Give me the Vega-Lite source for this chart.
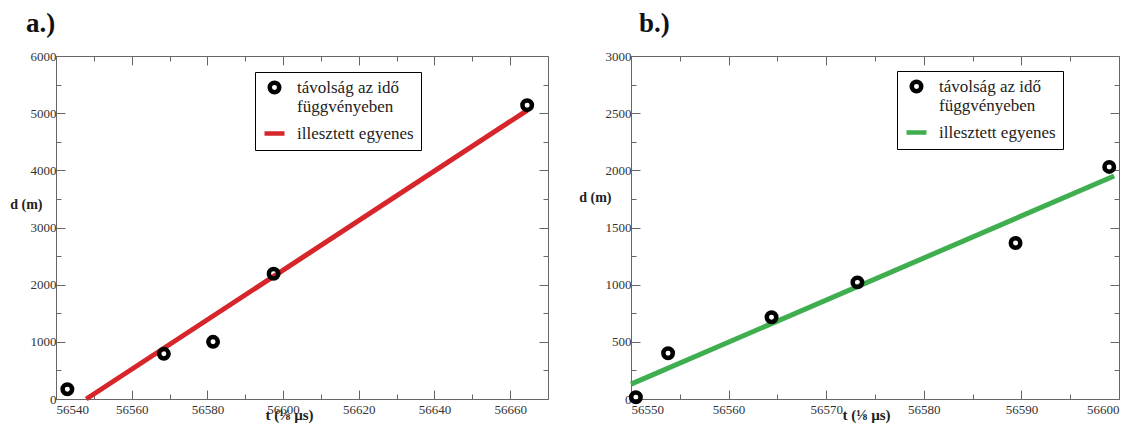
{
  "$schema": "https://vega.github.io/schema/vega-lite/v6.json",
  "background": "white",
  "padding": {"left": 9, "top": 10, "right": 2, "bottom": 2},
  "spacing": 29,
  "resolve": {
    "scale": {"color": "independent", "shape": "independent", "size": "independent"},
    "legend": {"color": "independent", "shape": "independent", "size": "independent"}
  },
  "config": {
    "font": "Liberation Serif",
    "view": {"stroke": null},
    "axis": {
      "labelFont": "Liberation Serif", "labelFontSize": 13, "labelColor": "#333",
      "domainColor": "#666", "tickColor": "#666", "grid": false,
      "titleFont": "Liberation Serif", "titleFontWeight": "bold", "titleFontSize": 15, "titleColor": "#222",
      "labelPadding": 13
    },
    "axisLeft": {"labelPadding": 9, "titleFontSize": 14},
    "legend": {
      "labelFont": "Liberation Serif", "labelFontSize": 17, "labelColor": "#222", "labelLimit": 300,
      "strokeColor": "black", "fillColor": "white", "padding": 7, "symbolStrokeWidth": 4.5,
      "rowPadding": 6, "labelOffset": 10, "cornerRadius": 0
    },
    "title": {"font": "Liberation Serif", "fontSize": 27, "fontWeight": "bold", "color": "#111", "anchor": "start", "frame": "group"}
  },
  "datasets": {
    "a": [
      {"t": 56543, "d": 170, "kind": "meas", "series": "távolság az idő függvényeben"},
      {"t": 56568.5, "d": 790, "kind": "meas", "series": "távolság az idő függvényeben"},
      {"t": 56581.5, "d": 1000, "kind": "meas", "series": "távolság az idő függvényeben"},
      {"t": 56597.5, "d": 2190, "kind": "meas", "series": "távolság az idő függvényeben"},
      {"t": 56664.5, "d": 5140, "kind": "meas", "series": "távolság az idő függvényeben"},
      {"t": 56548, "d": 0, "kind": "fit", "series": "illesztett egyenes"},
      {"t": 56664.5, "d": 5050, "kind": "fit", "series": "illesztett egyenes"}
    ],
    "b": [
      {"t": 56550.5, "d": 15, "kind": "meas", "series": "távolság az idő függvényeben"},
      {"t": 56553.8, "d": 400, "kind": "meas", "series": "távolság az idő függvényeben"},
      {"t": 56564.4, "d": 715, "kind": "meas", "series": "távolság az idő függvényeben"},
      {"t": 56573.2, "d": 1020, "kind": "meas", "series": "távolság az idő függvényeben"},
      {"t": 56589.4, "d": 1365, "kind": "meas", "series": "távolság az idő függvényeben"},
      {"t": 56599, "d": 2030, "kind": "meas", "series": "távolság az idő függvényeben"},
      {"t": 56550, "d": 130, "kind": "fit", "series": "illesztett egyenes"},
      {"t": 56599.5, "d": 1950, "kind": "fit", "series": "illesztett egyenes"}
    ]
  },
  "hconcat": [
    {
      "width": 492, "height": 343,
      "title": {"text": "a.)", "dx": -30, "offset": 12},
      "data": {"name": "a"},
      "resolve": {"axis": {"x": "independent", "y": "independent"}},
      "layer": [
        {
          "transform": [{"filter": "datum.kind == 'fit'"}],
          "mark": {"type": "line", "strokeWidth": 5, "clip": false},
          "encoding": {
            "x": {"field": "t", "type": "quantitative", "scale": {"domain": [56540, 56670], "zero": false, "nice": false},
                  "axis": {"orient": "top", "values": [56540, 56560, 56580, 56600, 56620, 56640, 56660], "labels": false, "title": null, "tickSize": -9}},
            "y": {"field": "d", "type": "quantitative", "scale": {"domain": [0, 6000], "nice": false},
                  "axis": {"orient": "right", "values": [0, 1000, 2000, 3000, 4000, 5000, 6000], "labels": false, "title": null, "tickSize": -9}},
            "color": {"field": "series", "type": "nominal",
                      "scale": {"domain": ["távolság az idő függvényeben", "illesztett egyenes"], "range": ["black", "#d6262b"]},
                      "legend": {"title": null, "orient": "none", "legendX": 199, "legendY": 16,
                                 "labelExpr": "datum.label == 'illesztett egyenes' ? datum.label : ['távolság az idő', 'függvényeben']"}}
          }
        },
        {
          "transform": [{"filter": "datum.kind == 'meas'"}],
          "mark": {"type": "point", "opacity": 0},
          "encoding": {
            "x": {"field": "t", "type": "quantitative",
                  "axis": {"orient": "bottom", "values": [56550, 56570, 56590, 56610, 56630, 56650], "labels": false, "title": null, "domain": false, "tickSize": -5}},
            "y": {"field": "d", "type": "quantitative",
                  "axis": {"orient": "left", "values": [500, 1500, 2500, 3500, 4500, 5500], "labels": false, "title": null, "domain": false, "tickSize": -5}}
          }
        },
        {
          "transform": [{"filter": "datum.kind == 'meas'"}],
          "mark": {"type": "point", "opacity": 0},
          "encoding": {
            "x": {"field": "t", "type": "quantitative",
                  "axis": {"orient": "top", "values": [56550, 56570, 56590, 56610, 56630, 56650], "labels": false, "title": null, "domain": false, "tickSize": -5}},
            "y": {"field": "d", "type": "quantitative",
                  "axis": {"orient": "right", "values": [500, 1500, 2500, 3500, 4500, 5500], "labels": false, "title": null, "domain": false, "tickSize": -5}}
          }
        },
        {
          "transform": [{"filter": "datum.kind == 'meas'"}],
          "mark": {"type": "point", "filled": false, "strokeWidth": 4.5, "opacity": 1, "clip": false},
          "encoding": {
            "x": {"field": "t", "type": "quantitative",
                  "axis": {"orient": "bottom", "values": [56540, 56560, 56580, 56600, 56620, 56640, 56660], "format": "d", "tickSize": -9,
                           "title": "t (⅛ µs)", "titleX": 233, "titleY": 20, "titleBaseline": "alphabetic"}},
            "y": {"field": "d", "type": "quantitative",
                  "axis": {"orient": "left", "values": [0, 1000, 2000, 3000, 4000, 5000, 6000], "format": "d", "tickSize": -9,
                           "title": "d (m)", "titleAngle": 0, "titleAlign": "right", "titleBaseline": "middle", "titleX": -14, "titleY": 148}},
            "color": {"field": "series", "type": "nominal"},
            "shape": {"field": "series", "type": "nominal",
                      "scale": {"domain": ["távolság az idő függvényeben", "illesztett egyenes"], "range": ["circle", "stroke"]}},
            "size": {"field": "series", "type": "nominal",
                     "scale": {"domain": ["távolság az idő függvényeben", "illesztett egyenes"], "range": [90, 400]}}
          }
        }
      ]
    },
    {
      "width": 488, "height": 343,
      "title": {"text": "b.)", "dx": 8, "offset": 12},
      "data": {"name": "b"},
      "resolve": {"axis": {"x": "independent", "y": "independent"}},
      "layer": [
        {
          "transform": [{"filter": "datum.kind == 'fit'"}],
          "mark": {"type": "line", "strokeWidth": 5, "clip": false},
          "encoding": {
            "x": {"field": "t", "type": "quantitative", "scale": {"domain": [56550, 56600], "zero": false, "nice": false},
                  "axis": {"orient": "top", "values": [56550, 56560, 56570, 56580, 56590, 56600], "labels": false, "title": null, "tickSize": -9}},
            "y": {"field": "d", "type": "quantitative", "scale": {"domain": [0, 3000], "nice": false},
                  "axis": {"orient": "right", "values": [0, 500, 1000, 1500, 2000, 2500, 3000], "labels": false, "title": null, "tickSize": -9}},
            "color": {"field": "series", "type": "nominal",
                      "scale": {"domain": ["távolság az idő függvényeben", "illesztett egyenes"], "range": ["black", "#3fae4f"]},
                      "legend": {"title": null, "orient": "none", "legendX": 266, "legendY": 15,
                                 "labelExpr": "datum.label == 'illesztett egyenes' ? datum.label : ['távolság az idő', 'függvényeben']"}}
          }
        },
        {
          "transform": [{"filter": "datum.kind == 'meas'"}],
          "mark": {"type": "point", "opacity": 0},
          "encoding": {
            "x": {"field": "t", "type": "quantitative",
                  "axis": {"orient": "bottom", "values": [56555, 56565, 56575, 56585, 56595], "labels": false, "title": null, "domain": false, "tickSize": -5}},
            "y": {"field": "d", "type": "quantitative",
                  "axis": {"orient": "left", "values": [250, 750, 1250, 1750, 2250, 2750], "labels": false, "title": null, "domain": false, "tickSize": -5}}
          }
        },
        {
          "transform": [{"filter": "datum.kind == 'meas'"}],
          "mark": {"type": "point", "opacity": 0},
          "encoding": {
            "x": {"field": "t", "type": "quantitative",
                  "axis": {"orient": "top", "values": [56555, 56565, 56575, 56585, 56595], "labels": false, "title": null, "domain": false, "tickSize": -5}},
            "y": {"field": "d", "type": "quantitative",
                  "axis": {"orient": "right", "values": [250, 750, 1250, 1750, 2250, 2750], "labels": false, "title": null, "domain": false, "tickSize": -5}}
          }
        },
        {
          "transform": [{"filter": "datum.kind == 'meas'"}],
          "mark": {"type": "point", "filled": false, "strokeWidth": 4.5, "opacity": 1, "clip": false},
          "encoding": {
            "x": {"field": "t", "type": "quantitative",
                  "axis": {"orient": "bottom", "values": [56550, 56560, 56570, 56580, 56590, 56600], "format": "d", "tickSize": -9,
                           "title": "t (⅛ µs)", "titleX": 235, "titleY": 20, "titleBaseline": "alphabetic"}},
            "y": {"field": "d", "type": "quantitative",
                  "axis": {"orient": "left", "values": [0, 500, 1000, 1500, 2000, 2500, 3000], "format": "d", "tickSize": -9,
                           "title": "d (m)", "titleAngle": 0, "titleAlign": "right", "titleBaseline": "middle", "titleX": -20, "titleY": 141}},
            "color": {"field": "series", "type": "nominal"},
            "shape": {"field": "series", "type": "nominal",
                      "scale": {"domain": ["távolság az idő függvényeben", "illesztett egyenes"], "range": ["circle", "stroke"]}},
            "size": {"field": "series", "type": "nominal",
                     "scale": {"domain": ["távolság az idő függvényeben", "illesztett egyenes"], "range": [90, 400]}}
          }
        }
      ]
    }
  ]
}
